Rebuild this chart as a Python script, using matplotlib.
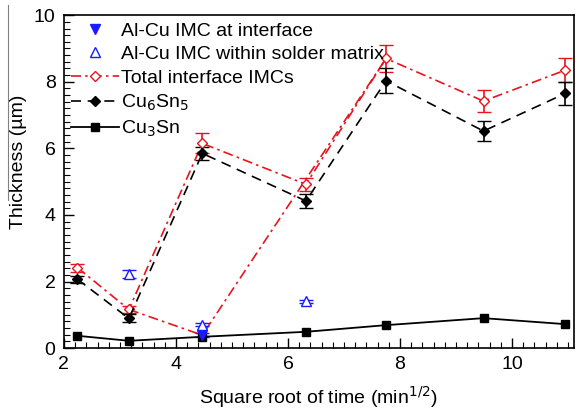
import numpy as np
import matplotlib.pyplot as plt
from matplotlib.lines import Line2D
from matplotlib.ticker import MultipleLocator

plt.rcParams['font.family'] = ['Liberation Sans', 'DejaVu Sans']

# square root of time (min^1/2)
t = [2.24, 3.16, 4.47, 6.32, 7.75, 9.49, 10.95]

total = [2.42, 1.16, 6.15, 4.92, 8.70, 7.42, 8.35]
total_err = [0.12, 0.10, 0.30, 0.20, 0.42, 0.33, 0.35]

cu6sn5 = [2.07, 0.89, 5.85, 4.42, 8.03, 6.52, 7.65]
cu6sn5_err = [0.10, 0.12, 0.20, 0.20, 0.38, 0.31, 0.35]

cu3sn = [0.37, 0.22, 0.34, 0.49, 0.69, 0.90, 0.72]

# stray dash-dot segment of the total curve
stray_t = [3.16, 4.47, 7.75]
stray_y = [1.16, 0.39, 8.70]

alcu_int_t = [4.47]
alcu_int = [0.39]
alcu_int_err = [0.05]

alcu_sol_t = [3.16, 4.47, 6.32]
alcu_sol = [2.24, 0.70, 1.41]
alcu_sol_err = [0.12, 0.05, 0.05]

red = '#e8141c'
blue = '#1a1aff'
dd = (6, 2.5, 1.5, 2.5)   # dash-dot
ds = (6, 4)               # dashed

fig = plt.figure(figsize=(5.76, 4.11), dpi=100)
ax = fig.add_axes([0.111, 0.153, 0.885, 0.810])

ax.plot(stray_t, stray_y, color=red, ls='-.', lw=1.2, dashes=dd)

ax.errorbar(alcu_int_t, alcu_int, yerr=alcu_int_err, fmt='v', color=blue,
            ms=7, capsize=5, elinewidth=1.0)
ax.errorbar(alcu_sol_t, alcu_sol, yerr=alcu_sol_err, fmt='^', color=blue,
            mfc='white', ms=7, capsize=5, elinewidth=1.0)
ax.errorbar(t, total, yerr=total_err, color=red, ls='-.', marker='D',
            mfc='white', ms=5.5, capsize=5, lw=1.2, dashes=dd)
ax.errorbar(t, cu6sn5, yerr=cu6sn5_err, color='black', ls='--', marker='D',
            ms=5.5, capsize=5, lw=1.2, dashes=ds)
ax.plot(t, cu3sn, color='black', ls='-', marker='s', ms=5.5, lw=1.3)

ax.set_xlim(2, 11.1)
ax.set_ylim(0, 10)
ax.xaxis.set_major_locator(MultipleLocator(2))
ax.xaxis.set_minor_locator(MultipleLocator(0.2))
ax.yaxis.set_major_locator(MultipleLocator(2))
ax.yaxis.set_minor_locator(MultipleLocator(0.2))
ax.tick_params(which='both', direction='in', labelsize=14, top=False, right=False)
ax.tick_params(which='major', length=7, width=1, pad=6)
ax.tick_params(which='minor', length=4, width=0.8)
for s in ax.spines.values():
    s.set_linewidth(1.2)

ax.set_xlabel('Square root of time (min$^{1/2}$)', fontsize=14, labelpad=8)
ax.set_ylabel('Thickness (µm)', fontsize=14)
ax.yaxis.set_label_coords(-0.072, 0.56)

handles = [
    Line2D([], [], ls='none', marker='v', color=blue, ms=7),
    Line2D([], [], ls='none', marker='^', color=blue, mfc='white', ms=7),
    Line2D([], [], ls='-.', dashes=dd, marker='D', color=red, mfc='white', ms=5.5, lw=1.2),
    Line2D([], [], ls='--', dashes=ds, marker='D', color='black', ms=5.5, lw=1.2),
    Line2D([], [], ls='-', marker='s', color='black', ms=5.5, lw=1.3),
]
labels = ['Al-Cu IMC at interface', 'Al-Cu IMC within solder matrix',
          'Total interface IMCs', 'Cu$_6$Sn$_5$', 'Cu$_3$Sn']
ax.legend(handles, labels, loc='upper left', frameon=False, fontsize=14,
          handlelength=2.5, borderaxespad=0.1, borderpad=0.25,
          labelspacing=0.3, handletextpad=0.1)

# thin gray line left of the y label, as in the scanned figure
fig.add_artist(Line2D([0.014, 0.014], [0.513, 0.988], color='gray', lw=0.8))

fig.savefig('out.png', dpi=100)
